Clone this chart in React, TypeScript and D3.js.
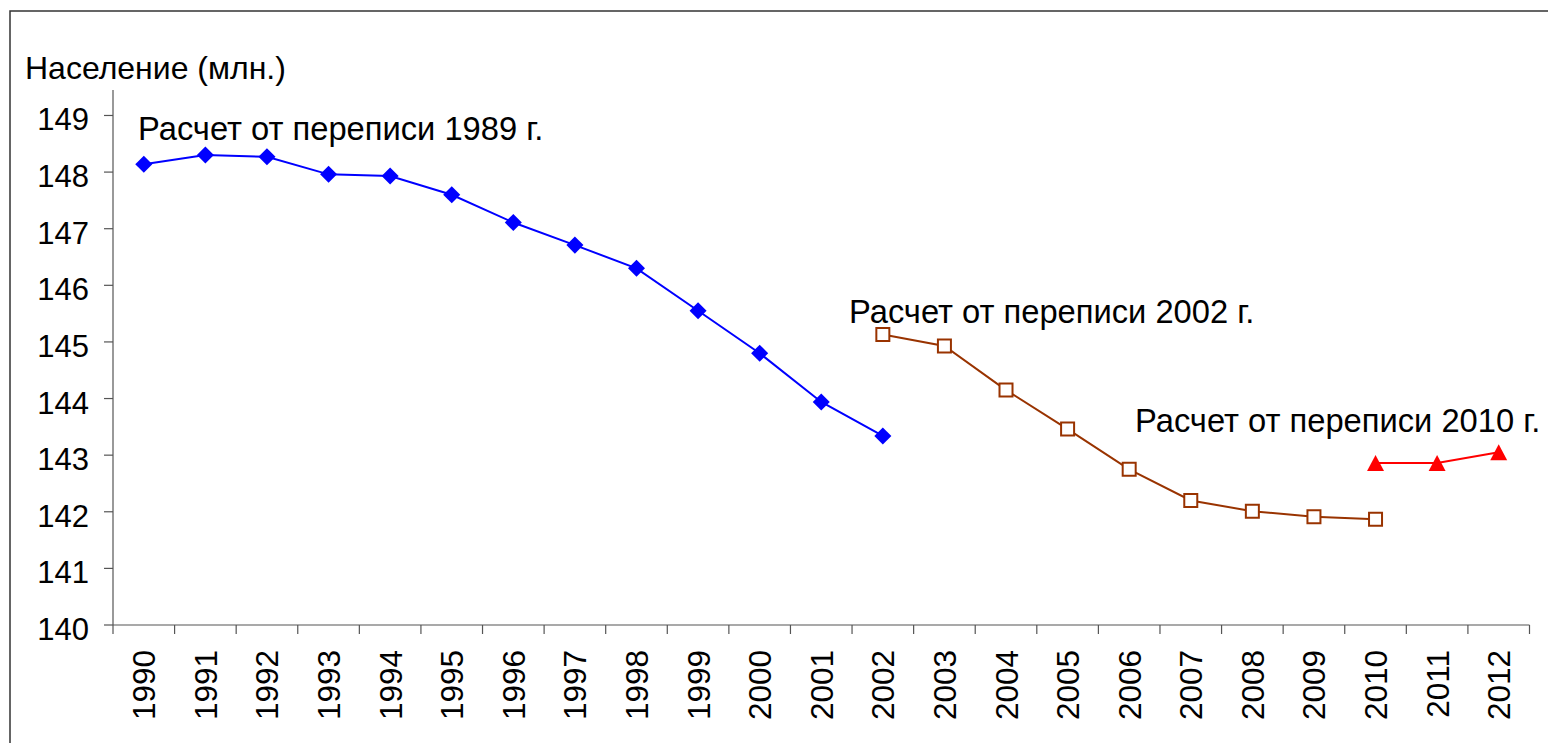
import React from "react";
import * as d3 from "d3";

const years: string[] = [
  "1990","1991","1992","1993","1994","1995","1996","1997","1998","1999","2000","2001",
  "2002","2003","2004","2005","2006","2007","2008","2009","2010","2011","2012",
];
const yTicks: number[] = [140, 141, 142, 143, 144, 145, 146, 147, 148, 149];

const census1989Years: string[] = ["1990","1991","1992","1993","1994","1995","1996","1997","1998","1999","2000","2001","2002"];
const census1989Values: number[] = [148.14, 148.3, 148.27, 147.96, 147.93, 147.6, 147.11, 146.71, 146.3, 145.55, 144.8, 143.94, 143.34];

const census2002Years: string[] = ["2002","2003","2004","2005","2006","2007","2008","2009","2010"];
const census2002Values: number[] = [145.13, 144.93, 144.15, 143.46, 142.75, 142.2, 142.01, 141.91, 141.87];

const census2010Years: string[] = ["2010","2011","2012"];
const census2010Values: number[] = [142.86, 142.86, 143.05];

const yTitle = "Население (млн.)";
const label1989 = "Расчет от переписи 1989 г.";
const label2002 = "Расчет от переписи 2002 г.";
const label2010 = "Расчет от переписи 2010 г.";

const FONT = "'Liberation Sans', Arial, sans-serif";

const boxTriangle = {
  draw(context: any, size: number) {
    const h = Math.sqrt(size);
    const w = h * 1.06;
    context.moveTo(0, -h / 2);
    context.lineTo(w / 2, h / 2);
    context.lineTo(-w / 2, h / 2);
    context.closePath();
  },
};

export default function App() {
  const W = 1548, H = 743;
  const left = 113, right = 1529.5, top = 90, bottom = 625;
  const x = d3.scaleBand<string>().domain(years).range([left, right]);
  const y = d3.scaleLinear().domain([140, 149.45]).range([bottom, top]);
  const cx = (yr: string) => (x(yr) as number) + x.bandwidth() / 2;

  const line = d3
    .line<[string, number]>()
    .x((d) => cx(d[0]))
    .y((d) => y(d[1]));

  const s1 = census1989Years.map((yr, i) => [yr, census1989Values[i]] as [string, number]);
  const s2 = census2002Years.map((yr, i) => [yr, census2002Values[i]] as [string, number]);
  const s3 = census2010Years.map((yr, i) => [yr, census2010Values[i]] as [string, number]);

  const diamond = d3.symbol().type(d3.symbolSquare).size(145)() as string;
  const square = d3.symbol().type(d3.symbolSquare).size(169)() as string;
  const tri = d3.symbol().type(boxTriangle as any).size(256)() as string;

  const boundaries = [...years.map((yr) => x(yr) as number), right];

  return (
    <svg
      width={W}
      height={H}
      style={{ position: "absolute", left: 0, top: 0, background: "#fff" }}
      fontFamily={FONT}
    >
      <rect x={0} y={0} width={W} height={H} fill="#fff" />
      <path d={`M10,${H + 5} L10,11 L${W + 5},11`} fill="none" stroke="#333" strokeWidth={1.5} />

      {/* y axis */}
      <line x1={left} x2={left} y1={top} y2={bottom} stroke="#555" strokeWidth={1.2} />
      {yTicks.map((t) => (
        <g key={t}>
          <line x1={104} x2={left} y1={y(t)} y2={y(t)} stroke="#555" strokeWidth={1.2} />
          <text x={89} y={y(t) + 15} textAnchor="end" fontSize={31} fill="#000">
            {t}
          </text>
        </g>
      ))}
      <text x={25} y={79} fontSize={32} fill="#000">
        {yTitle}
      </text>

      {/* x axis */}
      <line x1={left} x2={right} y1={bottom} y2={bottom} stroke="#555" strokeWidth={1.2} />
      {boundaries.map((bx, i) => (
        <line key={i} x1={bx} x2={bx} y1={bottom} y2={bottom + 9} stroke="#555" strokeWidth={1.2} />
      ))}
      {years.map((yr) => (
        <text
          key={yr}
          transform={`translate(${cx(yr) + 11.5},650) rotate(-90)`}
          textAnchor="end"
          fontSize={31.5}
          fill="#000"
        >
          {yr}
        </text>
      ))}

      {/* series */}
      <path d={line(s1) as string} fill="none" stroke="#0000FF" strokeWidth={2} />
      {s1.map((d) => (
        <path key={d[0]} d={diamond} transform={`translate(${cx(d[0])},${y(d[1])}) rotate(45)`} fill="#0000FF" />
      ))}

      <path d={line(s2) as string} fill="none" stroke="#993300" strokeWidth={2} />
      {s2.map((d) => (
        <path key={d[0]} d={square} transform={`translate(${cx(d[0])},${y(d[1])})`} fill="#fff" stroke="#993300" strokeWidth={2} />
      ))}

      <path d={line(s3) as string} fill="none" stroke="#FF0000" strokeWidth={2} />
      {s3.map((d) => (
        <path key={d[0]} d={tri} transform={`translate(${cx(d[0])},${y(d[1])})`} fill="#FF0000" />
      ))}

      {/* annotations */}
      <text x={138} y={140} fontSize={32.7} fill="#000">{label1989}</text>
      <text x={849} y={323} fontSize={32.7} fill="#000">{label2002}</text>
      <text x={1135} y={432} fontSize={32.7} fill="#000">{label2010}</text>
    </svg>
  );
}
